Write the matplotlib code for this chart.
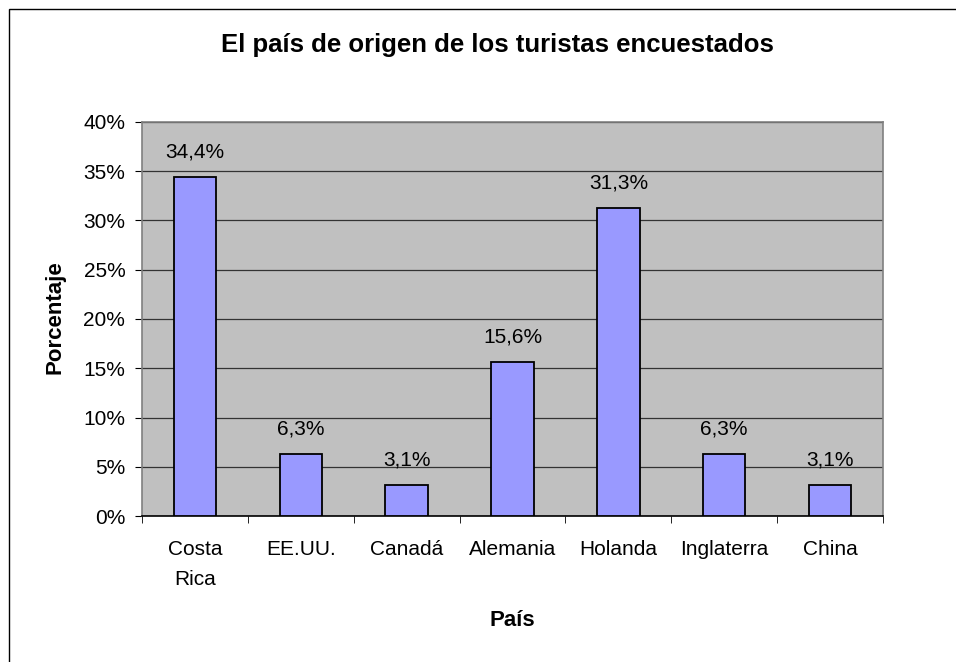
import matplotlib
matplotlib.use("Agg")
import matplotlib.pyplot as plt
from matplotlib.patches import Rectangle
from matplotlib.ticker import MultipleLocator, FuncFormatter

plt.rcParams['font.family'] = ['Liberation Sans', 'DejaVu Sans']

paises = ["Costa\nRica", "EE.UU.", "Canadá", "Alemania", "Holanda", "Inglaterra", "China"]
porcentajes = [34.4, 6.3, 3.1, 15.6, 31.3, 6.3, 3.1]

titulo = "El país de origen de los turistas encuestados"
etiqueta_x = "País"
etiqueta_y = "Porcentaje"

W, H = 956, 662
fig = plt.figure(figsize=(W / 100, H / 100), dpi=100)
fig.patch.set_facecolor("white")

# chart frame (left and top edges visible)
fig.add_artist(Rectangle((9 / W, -0.05), 1.2, 1 - 9 / H + 0.05, transform=fig.transFigure,
                         fill=False, edgecolor="black", linewidth=1.0))

left, right, top, bottom = 142, 883, 122, 516
ax = fig.add_axes([left / W, 1 - bottom / H, (right - left) / W, (bottom - top) / H])
ax.set_facecolor("#C0C0C0")

x = list(range(len(paises)))
ax.bar(x, porcentajes, width=0.4, color="#9999FF", edgecolor="black", linewidth=1.3, zorder=3)

for xi, v in zip(x, porcentajes):
    ax.annotate(f"{v:.1f}%".replace(".", ","), (xi, v), xytext=(0, 18),
                textcoords="offset points", ha="center", va="center", fontsize=15)

ax.set_xlim(-0.5, len(paises) - 0.5)
ax.set_ylim(0, 40)
ax.yaxis.set_major_locator(MultipleLocator(5))
ax.yaxis.set_major_formatter(FuncFormatter(lambda v, p: f"{v:.0f}%"))
ax.yaxis.grid(True, color="#333333", linewidth=0.9, zorder=1)
ax.set_axisbelow(True)

ax.set_xticks(x)
ax.set_xticklabels(paises, fontsize=15, linespacing=1.75)
ax.tick_params(axis="x", length=0, pad=17)
ax.set_xticks([i - 0.5 for i in range(len(paises) + 1)], minor=True)
ax.tick_params(axis="x", which="minor", length=5, color="black", direction="out")
ax.tick_params(axis="y", length=5, color="black", direction="out", labelsize=15, pad=7)

for s in ("left", "top", "right"):
    ax.spines[s].set_color("#808080")
    ax.spines[s].set_linewidth(1.2)
ax.spines["bottom"].set_color("black")
ax.spines["bottom"].set_linewidth(1.2)

fig.text(497 / W, 1 - 52 / H, titulo, ha="center", va="baseline", fontsize=18.5, fontweight="bold")
fig.text(512 / W, 1 - 620 / H, etiqueta_x, ha="center", va="center", fontsize=16, fontweight="bold")
fig.text(55 / W, 1 - 317 / H, etiqueta_y, ha="center", va="center", fontsize=16,
         fontweight="bold", rotation=90)

fig.savefig("out.png", dpi=100, facecolor="white")
